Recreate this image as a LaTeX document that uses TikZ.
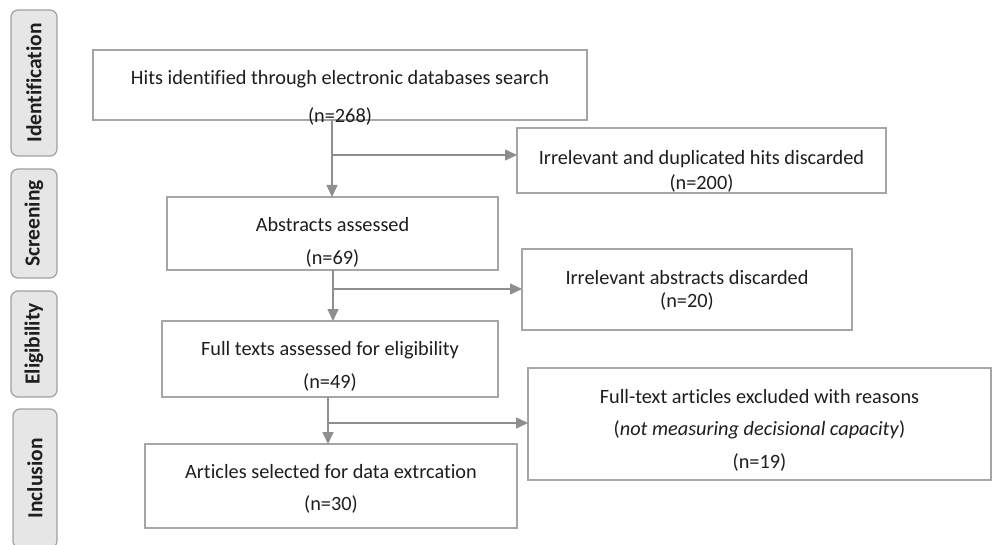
\documentclass[tikz,border=0pt]{standalone}
\usepackage{fontspec}
\setmainfont[Ligatures=NoCommon]{Carlito}
\usetikzlibrary{arrows.meta}
\definecolor{boxgray}{HTML}{A6A6A6}
\definecolor{arrgray}{HTML}{8E8E8E}
\definecolor{labfill}{HTML}{E6E6E6}
\definecolor{labline}{HTML}{A0A0A0}
\definecolor{ink}{HTML}{1E1E1E}
\tikzset{
  fbox/.style={draw=boxgray, line width=1.3pt, fill=white, inner sep=0pt, outer sep=0pt},
  txt/.style={anchor=base, text=ink, inner sep=0pt, font=\fontsize{20.3}{24}\selectfont},
  arr/.style={draw=arrgray, line width=1.4pt, -{Triangle[length=12pt,width=11pt]}},
  lab/.style={draw=labline, line width=1.2pt, fill=labfill, rounded corners=7pt, rotate=90,
    inner sep=0pt, outer sep=0pt, text=ink, font=\fontsize{21.5}{24}\selectfont\bfseries}
}
\begin{document}
\begin{tikzpicture}[x=1pt,y=-1pt]
\useasboundingbox (0,0) rectangle (993,545);
% stage labels
\node[lab, minimum width=146pt, minimum height=46pt] (lid) at (34,83) {Identification};
\node[lab, minimum width=109pt, minimum height=46pt] (lsc) at (34,223.5) {Screening};
\node[lab, minimum width=106pt, minimum height=46pt] (lel) at (34,344) {Eligibility};
\node[lab, minimum width=139pt, minimum height=44pt] (lin) at (35,478.5) {Inclusion};
% boxes
\node[fbox, minimum width=494pt, minimum height=70pt] (hits) at (340,85) {};
\node[fbox, minimum width=369pt, minimum height=65pt] (disc1) at (701.5,160.5) {};
\node[fbox, minimum width=331pt, minimum height=73pt] (abs) at (332.5,233.5) {};
\node[fbox, minimum width=330pt, minimum height=81pt] (disc2) at (687,289.5) {};
\node[fbox, minimum width=336pt, minimum height=76pt] (full) at (330,359) {};
\node[fbox, minimum width=463pt, minimum height=112pt] (disc3) at (759.5,424) {};
\node[fbox, minimum width=372pt, minimum height=84pt] (art) at (331,486) {};
% texts
\node[txt] (hitsA) at (340,85) {Hits identified through electronic databases search};
\node[txt] (hitsB) at (340,123) {(n=268)};
\node[txt] (disc1A) at (701.5,165) {Irrelevant and duplicated hits discarded};
\node[txt] (disc1B) at (701.5,190) {(n=200)};
\node[txt] (absA) at (332.5,232) {Abstracts assessed};
\node[txt] (absB) at (332.5,265) {(n=69)};
\node[txt] (disc2A) at (687,285) {Irrelevant abstracts discarded};
\node[txt] (disc2B) at (687,308) {(n=20)};
\node[txt] (fullA) at (330,355) {Full texts assessed for eligibility};
\node[txt] (fullB) at (330,388) {(n=49)};
\node[txt] (disc3A) at (759.5,403) {Full-text articles excluded with reasons};
\node[txt] (disc3B) at (759.5,435) {(\textit{not measuring decisional capacity})};
\node[txt] (disc3C) at (759.5,468) {(n=19)};
\node[txt] (artA) at (331,478) {Articles selected for data extrcation};
\node[txt] (artB) at (331,510) {(n=30)};
% connectors
\coordinate (j1) at (332,155);
\coordinate (j2) at (333,289);
\coordinate (j3) at (328,423);
\draw[arr] (j1 |- hits.south) -- (j1 |- abs.north);
\draw[arr] (j1) -- (j1 -| disc1.west);
\draw[arr] (j2 |- abs.south) -- (j2 |- full.north);
\draw[arr] (j2) -- (j2 -| disc2.west);
\draw[arr] (j3 |- full.south) -- (j3 |- art.north);
\draw[arr] (j3) -- (j3 -| disc3.west);
\end{tikzpicture}
\end{document}
